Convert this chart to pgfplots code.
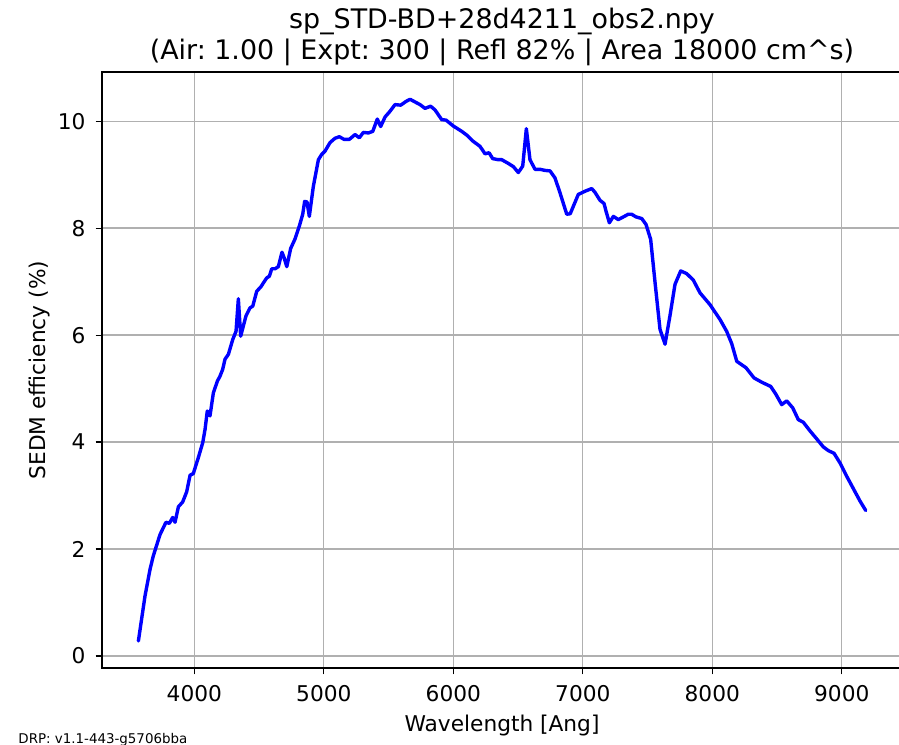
\documentclass[border=0pt]{standalone}
\usepackage{fontspec}
\setmainfont{DejaVu Sans}
\usepackage{pgfplots}
\pgfplotsset{compat=1.18}
\usepackage{pgfplotstable}
\definecolor{gridgray}{HTML}{B0B0B0}
\frenchspacing
\pgfplotstableread{
lam eff
3568 0.28
3619 1.12
3658 1.62
3683 1.87
3735 2.27
3781 2.50
3807 2.48
3833 2.59
3851 2.50
3877 2.79
3910 2.88
3941 3.07
3967 3.38
3992 3.41
4031 3.71
4065 3.99
4083 4.24
4100 4.58
4121 4.49
4147 4.92
4178 5.14
4198 5.23
4219 5.36
4237 5.55
4263 5.64
4297 5.92
4322 6.07
4340 6.68
4358 5.98
4399 6.36
4430 6.51
4451 6.54
4482 6.82
4513 6.90
4559 7.07
4579 7.10
4598 7.24
4623 7.24
4649 7.28
4677 7.55
4693 7.45
4714 7.28
4744 7.62
4778 7.80
4811 8.04
4837 8.26
4852 8.50
4870 8.49
4888 8.22
4919 8.78
4958 9.28
4984 9.38
5009 9.44
5048 9.60
5086 9.68
5120 9.71
5156 9.66
5197 9.66
5241 9.75
5274 9.69
5305 9.79
5344 9.78
5378 9.81
5413 10.04
5439 9.90
5473 10.08
5506 10.17
5550 10.31
5594 10.30
5635 10.37
5666 10.41
5704 10.36
5743 10.31
5781 10.24
5825 10.28
5859 10.21
5910 10.03
5944 10.02
6000 9.91
6065 9.81
6104 9.74
6150 9.63
6206 9.53
6245 9.39
6276 9.41
6304 9.30
6348 9.28
6374 9.28
6425 9.21
6464 9.15
6502 9.04
6536 9.16
6564 9.86
6592 9.28
6631 9.10
6670 9.10
6708 9.08
6747 9.07
6785 8.94
6824 8.66
6876 8.26
6903 8.27
6965 8.63
7017 8.69
7069 8.74
7094 8.67
7133 8.52
7164 8.46
7179 8.32
7205 8.10
7236 8.22
7274 8.16
7313 8.21
7351 8.26
7377 8.26
7411 8.21
7455 8.18
7488 8.07
7524 7.79
7558 6.98
7596 6.11
7635 5.83
7673 6.36
7712 6.95
7756 7.20
7802 7.15
7853 7.03
7905 6.79
7982 6.57
8060 6.29
8111 6.07
8150 5.84
8189 5.51
8260 5.39
8322 5.20
8381 5.12
8451 5.04
8492 4.89
8536 4.70
8575 4.77
8621 4.64
8664 4.42
8703 4.37
8754 4.21
8806 4.06
8857 3.91
8896 3.84
8940 3.79
8986 3.61
9038 3.36
9089 3.13
9140 2.90
9185 2.72
}\effdata
\begin{document}
\begin{tikzpicture}
\useasboundingbox (-102pt,-76pt) rectangle (797pt,668pt);
\begin{axis}[
  at={(0pt,0pt)}, anchor=south west,
  scale only axis,
  width=800pt, height=596pt,
  xmin=3287, xmax=9465,
  ymin=-0.225, ymax=10.92,
  xtick={4000,5000,6000,7000,8000,9000},
  ytick={0,2,4,6,8,10},
  scaled x ticks=false,
  /pgf/number format/.cd, set thousands separator={}, assume math mode=true,
  /pgfplots/.cd,
  tick pos=left,
  tick align=outside,
  major tick length=6.3pt,
  tick style={black, line width=1.2pt},
  axis line style={black, line width=1.3pt},
  grid=major,
  major grid style={gridgray, line width=1.3pt},
  xticklabel style={font=\fontsize{21.7}{26}\selectfont, anchor=base, inner sep=0pt, yshift=-27.4pt},
  yticklabel style={font=\fontsize{21.7}{26}\selectfont, anchor=east, inner sep=0pt, xshift=-10pt},
]
\addplot[color={rgb,255:red,0;green,0;blue,255}, line width=3.4pt, line join=round, line cap=round] table[x=lam, y=eff] {\effdata};
\end{axis}
\node[anchor=base, inner sep=0pt, font=\fontsize{26.9}{32}\selectfont] at (400pt,639pt) {sp\_STD-BD+28d4211\_obs2.npy};
\node[anchor=base, inner sep=0pt, font=\fontsize{26.9}{32}\selectfont] at (400pt,608pt) {(Air: 1.00 | Expt: 300 | Refl 82\% | Area 18000 cm\textasciicircum s)};
\node[anchor=base, inner sep=0pt, font=\fontsize{21.7}{26}\selectfont] at (400pt,-63pt) {Wavelength [Ang]};
\node[anchor=base, inner sep=0pt, rotate=90, font=\fontsize{21.7}{26}\selectfont] at (-56pt,298pt) {SEDM efficiency (\%)};
\node[anchor=base west, inner sep=0pt, font=\fontsize{13.4}{16}\selectfont] at (-83.7pt,-75pt) {DRP: v1.1-443-g5706bba};
\end{tikzpicture}
\end{document}
